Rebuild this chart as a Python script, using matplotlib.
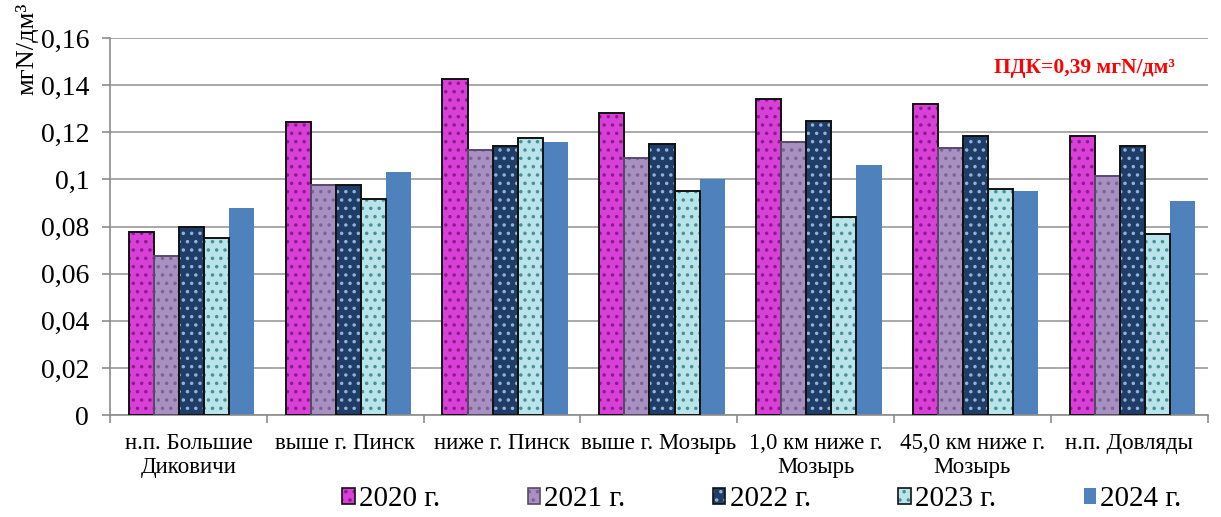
import numpy as np
import matplotlib.pyplot as plt
from matplotlib.patches import Patch
from matplotlib.ticker import FuncFormatter

plt.rcParams['font.family'] = ['Liberation Serif', 'DejaVu Serif']
plt.rcParams['hatch.linewidth'] = 1.3

sites = ["н.п. Большие\nДиковичи", "выше г. Пинск", "ниже г. Пинск", "выше г. Мозырь",
         "1,0 км ниже г.\nМозырь", "45,0 км ниже г.\nМозырь", "н.п. Довляды"]
years = ["2020 г.", "2021 г.", "2022 г.", "2023 г.", "2024 г."]
v2020 = [0.0775, 0.1243, 0.1425, 0.1283, 0.1343, 0.1318, 0.1183]
v2021 = [0.0675, 0.0977, 0.1125, 0.1093, 0.1160, 0.1135, 0.1015]
v2022 = [0.0800, 0.0977, 0.1142, 0.1152, 0.1250, 0.1185, 0.1143]
v2023 = [0.0750, 0.0917, 0.1175, 0.0950, 0.0842, 0.0958, 0.0767]
v2024 = [0.0880, 0.1030, 0.1160, 0.1000, 0.1060, 0.0950, 0.0910]
series = [v2020, v2021, v2022, v2023, v2024]

# fill, dot colour, outline
styles = [("#d840d8", "#8c1a8c", "#111111"),
          ("#a890c2", "#7a6590", "#5a4a6a"),
          ("#1f3d66", "#8fb4dc", "#111111"),
          ("#b8e4ea", "#4a8e98", "#111111"),
          ("#4f81bd", None, None)]

fig = plt.figure(figsize=(12.21, 5.17), dpi=100)
ax = fig.add_axes([0.0901, 0.197, 0.899, 0.7295])

x = np.arange(len(sites))
w = 0.16
for i, (vals, (fc, dc, ec)) in enumerate(zip(series, styles)):
    pos = x - 2 * w + i * w + 0.02
    if dc:
        ax.bar(pos, vals, w, color=fc, hatch="..", edgecolor=dc, linewidth=0, zorder=2)
        ax.bar(pos, vals, w, fill=False, edgecolor=ec, linewidth=1.4, zorder=3)
    else:
        ax.bar(pos, vals, w, color=fc, linewidth=0, zorder=2)

ax.set_ylim(0, 0.16)
ax.set_xlim(-0.5, len(sites) - 0.5)
ax.set_yticks(np.arange(0, 0.161, 0.02))
ax.yaxis.set_major_formatter(FuncFormatter(lambda v, p: ("%g" % round(v, 2)).replace(".", ",")))
ax.grid(axis="y", color="#9a9a9a", linewidth=1.2, zorder=0)
ax.set_axisbelow(True)
for s in ["top", "right"]:
    ax.spines[s].set_visible(False)
for s in ["left", "bottom"]:
    ax.spines[s].set_color("#8c8c8c")
    ax.spines[s].set_linewidth(1.2)
ax.tick_params(axis="y", labelsize=20, length=6, color="#8c8c8c", width=1.2, pad=9)
ax.set_xticks(x)
ax.set_xticklabels(sites, fontsize=16.5, linespacing=1.15)
ax.tick_params(axis="x", which="major", length=0, pad=13)
ax.set_xticks(np.arange(-0.5, len(sites), 1), minor=True)
ax.tick_params(axis="x", which="minor", length=6, color="#8c8c8c", width=1.2)

fig.text(0.022, 0.995, "мгN/дм³", rotation=90, fontsize=19, ha="center", va="top")
ax.text(0.97, 0.92, "ПДК=0,39 мгN/дм³", transform=ax.transAxes, color="#ff0000",
        fontsize=15.5, fontweight="bold", ha="right", va="center")

handles = []
for (fc, dc, ec), lab in zip(styles, years):
    if dc:
        handles.append((Patch(facecolor=fc, hatch="..", edgecolor=dc, linewidth=0),
                        Patch(fill=False, edgecolor=ec, linewidth=1.2)))
    else:
        handles.append(Patch(facecolor=fc, linewidth=0))
fig.legend(handles=handles, labels=years, loc="center", bbox_to_anchor=(0.624, 0.034), ncol=5,
           frameon=False, fontsize=21, handlelength=0.42, handleheight=0.42, handletextpad=0.15,
           columnspacing=3.0, borderaxespad=0)

fig.savefig("out.png", dpi=100)
